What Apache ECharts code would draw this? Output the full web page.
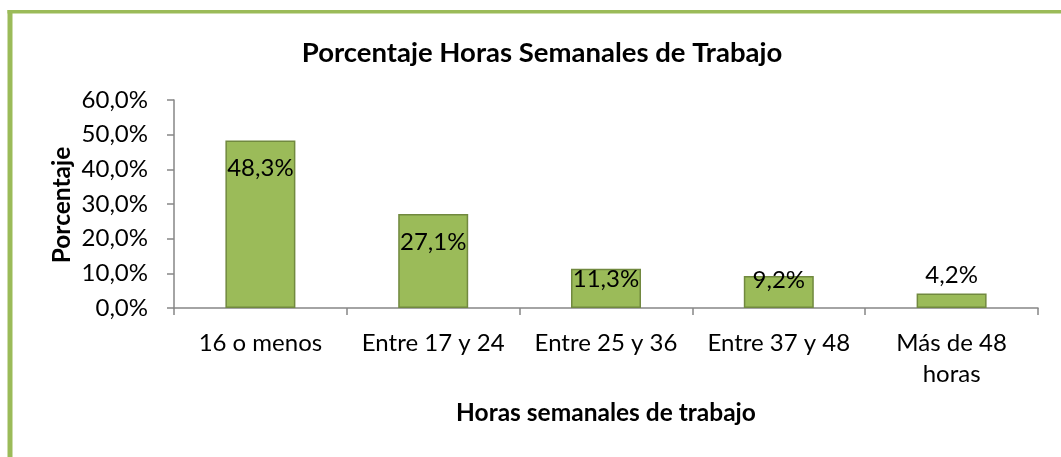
<!DOCTYPE html>
<html>
<head>
<meta charset="utf-8">
<script src="https://cdn.jsdelivr.net/npm/echarts@6/dist/echarts.min.js"></script>
<style>
html,body{margin:0;padding:0;background:#fff;}
#c{width:1061px;height:457px;}
</style>
</head>
<body>
<div id="c"></div>
<script>
const title = 'Porcentaje Horas Semanales de Trabajo';
const categories = ['16 o menos', 'Entre 17 y 24', 'Entre 25 y 36', 'Entre 37 y 48', 'Más de 48\nhoras'];
const values = [48.3, 27.1, 11.3, 9.2, 4.2];
const yTicks = { min: 0, max: 60, interval: 10 };
const xName = 'Horas semanales de trabajo';
const yName = 'Porcentaje';

const FONT = 'Lato';
const fmt = v => v.toFixed(1).replace('.', ',') + '%';
const labelPos = [
  { position: 'insideTop', distance: 16 },
  { position: 'insideTop', distance: 16 },
  { position: 'insideTop', distance: -2 },
  { position: 'insideTop', distance: -8 },
  { position: 'top', distance: 6 }
];

const chart = echarts.init(document.getElementById('c'), null, { renderer: 'canvas' });
chart.setOption({
  animation: false,
  backgroundColor: '#ffffff',
  title: {
    text: title, left: 537, top: 34, textAlign: 'center',
    textStyle: { fontFamily: FONT, fontSize: 27.5, fontWeight: 'bold', color: '#000' }
  },
  grid: { left: 174, right: 23, top: 100, bottom: 149, containLabel: false },
  graphic: [
    { type: 'rect', shape: { x: 7.5, y: 10, width: 5, height: 460 }, style: { fill: '#9BBB59' }, silent: true },
    { type: 'rect', shape: { x: 7.5, y: 10, width: 1070, height: 3.5 }, style: { fill: '#9BBB59' }, silent: true },
    { type: 'text', x: 62, y: 205, rotation: Math.PI / 2,
      style: { text: yName, fontFamily: FONT, fontSize: 24.5, fontWeight: 'bold', fill: '#000', align: 'center', verticalAlign: 'middle' } },
    { type: 'text', x: 606, y: 413,
      style: { text: xName, fontFamily: FONT, fontSize: 24.5, fontWeight: 'bold', fill: '#000', align: 'center', verticalAlign: 'middle' } }
  ],
  xAxis: {
    type: 'category', data: categories,
    axisLine: { lineStyle: { color: '#868686', width: 1.5 } },
    axisTick: { show: true, length: 7, lineStyle: { color: '#868686', width: 1.5 } },
    axisLabel: { fontFamily: FONT, fontSize: 24, color: '#000', margin: 20, lineHeight: 31, interval: 0 }
  },
  yAxis: {
    type: 'value', min: yTicks.min, max: yTicks.max, interval: yTicks.interval,
    splitLine: { show: false },
    axisLine: { show: true, lineStyle: { color: '#868686', width: 1.5 } },
    axisTick: { show: true, length: 7, lineStyle: { color: '#868686', width: 1.5 } },
    axisLabel: { fontFamily: FONT, fontSize: 24, color: '#000', margin: 26, formatter: fmt }
  },
  series: [{
    type: 'bar',
    data: values.map((v, i) => ({ value: v, label: labelPos[i] })),
    barWidth: '40.5%',
    itemStyle: { color: '#9BBB59', borderColor: '#71893F', borderWidth: 1.5 },
    label: { show: true, fontFamily: FONT, fontSize: 24, color: '#000', formatter: p => fmt(p.value) }
  }]
});
</script>
</body>
</html>
